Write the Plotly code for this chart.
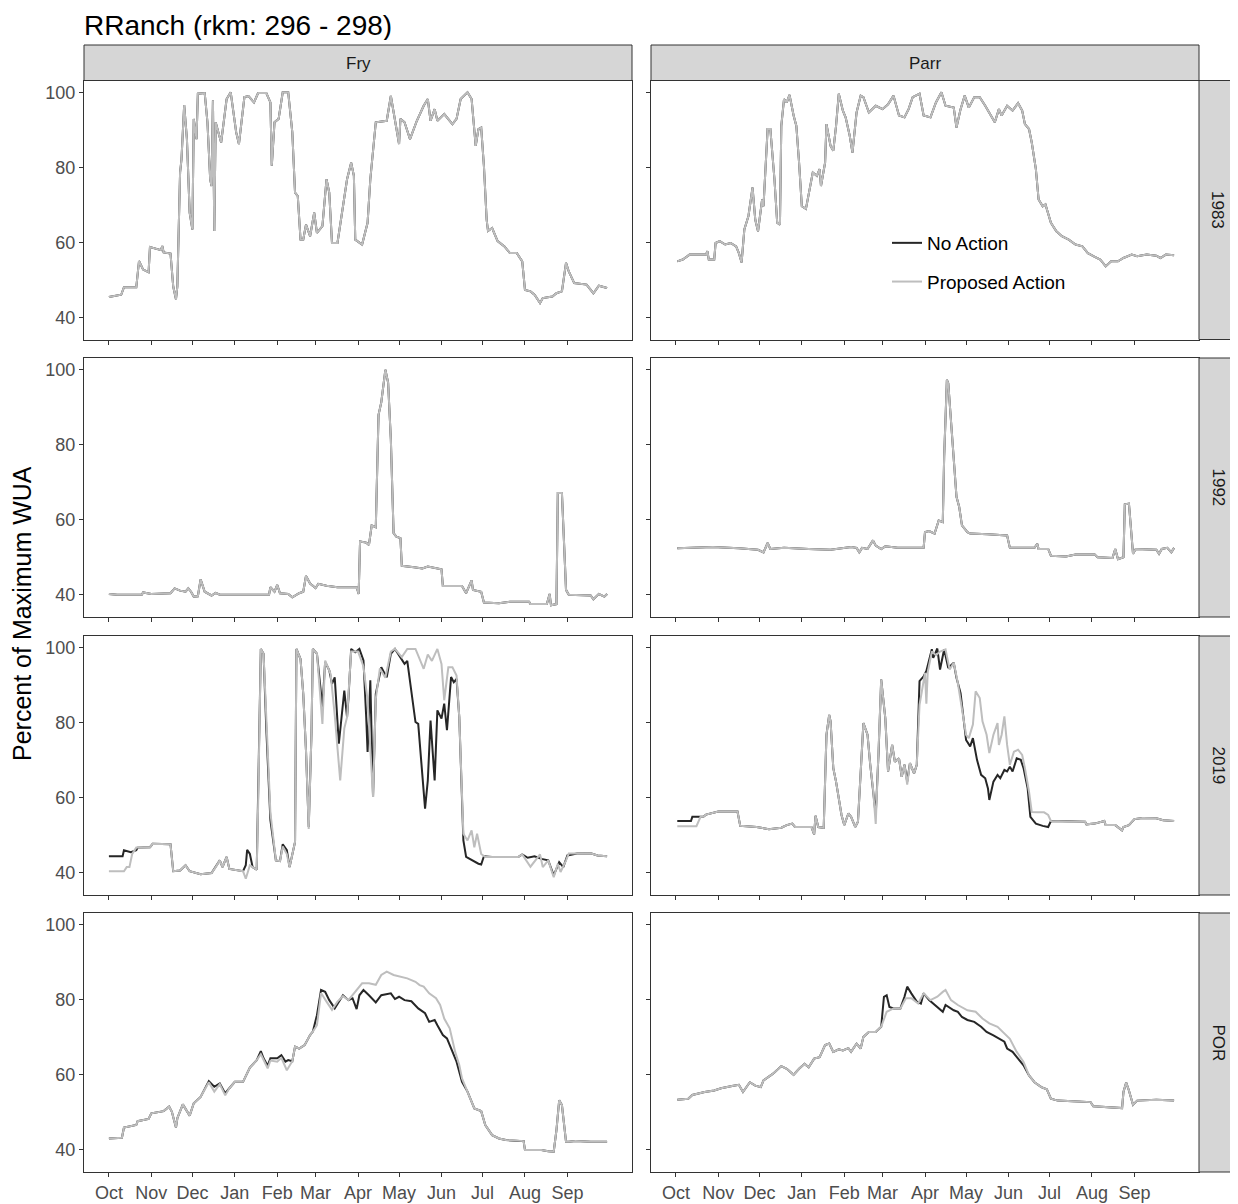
import plotly.graph_objects as go

# ---------------- data (day of water year, % of maximum WUA) ----------------
MONTHS = ["Oct", "Nov", "Dec", "Jan", "Feb", "Mar", "Apr", "May", "Jun", "Jul", "Aug", "Sep"]
MONTH_START_DAY = [0, 31, 61, 92, 123, 151, 182, 212, 243, 273, 304, 335]
LIFE_STAGES = ["Fry", "Parr"]
YEARS = ["1983", "1992", "2019", "POR"]
Y_TICKS = [40, 60, 80, 100]

FRY_1983 = [(0,45.4),(9,46),(11,48),(20,48),(22,55),(25,52.7),(29,52),(30,58.7),(38,57.9),(39,59),(40,57.3),(45,57),(47,48.2),(49,44.8),(50,48.2),(52,78.6),(53,82),(55,96.6),(57,87.5),(59,67.9),(61,63.4),(62,92.9),(64,87.5),(65,99.6),(70,99.8),(72,92),(74,76.8),(75,75),(76,97.8),(77,63),(78,92),(82,86.6),(86,98.2),(89,100),(93,89.3),(95,86.2),(99,98.7),(102,99),(106,97.3),(109,99.8),(115,99.8),(118,97.3),(119,80.4),(121,92),(124,92.9),(127,100),(131,100),(134,89.3),(136,73.2),(138,72.3),(140,60.7),(142,60.7),(144,64.7),(147,61.6),(150,67.9),(152,62.5),(156,64.3),(159,76.8),(161,73.2),(163,59.8),(167,59.8),(172,72.3),(174,76.8),(177,81.2),(179,77.7),(180,60.7),(185,59.4),(189,65.2),(191,76.8),(195,92),(203,92.4),(206,99),(209,92),(212,86.2),(213,92.9),(216,92),(220,87.5),(225,92.4),(230,96.4),(233,98.2),(235,92.4),(238,95.5),(240,92.4),(245,94.2),(251,91.5),(254,92.9),(257,98.2),(262,100),(265,98.2),(268,85.7),(270,90.2),(272,90.6),(274,80.4),(276,66),(277,63),(280,63.8),(284,60.3),(289,58.9),(293,57.1),(298,57.1),(302,54.9),(304,47.3),(308,46.9),(311,46),(315,43.8),(317,45.1),(324,45.5),(327,46.4),(331,46.9),(334,54.5),(336,52.2),(340,49.1),(349,48.7),(354,46.4),(358,48.4),(364,47.8)]

PARR_1983 = [(1,54.9),(5,55.4),(10,56.7),(22,56.7),(23,57.6),(24,55.4),(28,55.4),(29,59.8),(32,60.3),(36,59.4),(40,59.8),(44,58.9),(46,57.1),(48,54.6),(50,63.4),(53,67),(56,74.6),(58,66),(60,62.9),(63,71.4),(64,69.6),(67,90.2),(69,90.2),(72,76.8),(74,65.2),(76,64.7),(77,91),(79,98.2),(81,97.3),(83,99.3),(86,93.8),(88,91),(90,81.2),(92,69.6),(95,68.9),(97,73.2),(100,78.6),(103,77.7),(105,79.5),(106,75),(109,81.2),(110,91.5),(113,85.7),(115,84.4),(117,91),(119,99.6),(122,95.1),(124,93.3),(127,88.4),(129,83.9),(132,94.6),(135,99.1),(137,98.7),(141,94.6),(146,96.4),(151,95.5),(155,96.8),(159,99.1),(163,93.8),(167,93.3),(170,95.5),(173,98.7),(178,99.6),(181,93.8),(186,93.3),(190,97.3),(194,100),(197,96.4),(203,95.9),(205,90.6),(208,95.5),(211,99.1),(214,95.9),(218,98.7),(222,98.7),(226,96.4),(229,94.6),(233,92),(236,95.5),(238,93.8),(242,96.4),(246,95.1),(250,97.1),(253,95.1),(255,91.5),(258,90.2),(260,86.6),(263,79.5),(265,71.4),(268,69.6),(270,70.1),(274,65.2),(278,62.9),(282,61.6),(287,60.7),(292,59.4),(297,58.9),(301,57.1),(305,56.3),(310,55.4),(314,53.6),(318,54.9),(323,54.9),(327,55.8),(333,56.7),(337,56.3),(344,56.7),(351,56.4),(354,55.8),(358,56.7),(364,56.5)]

FRY_1992 = [(0,40.2),(6,40),(24,40),(25,40.6),(31,40.2),(45,40.4),(48,41.7),(52,41.1),(56,40.8),(58,41.7),(60,40.8),(62,39.5),(65,39.6),(67,44.1),(70,40.8),(75,39.8),(78,40.5),(81,40),(98,40),(117,40),(118,42),(121,40.8),(123,42.6),(125,40.4),(131,40.2),(134,39.3),(139,40.4),(142,40.8),(144,45),(147,43),(151,41.8),(153,42.9),(159,42.4),(167,42),(181,42),(182.5,40.2),(183.5,54.2),(188,53.9),(190,53.3),(192,58.5),(195,58),(197,88),(199,91.3),(202,100),(204,96.6),(206,81.4),(208,56.4),(210,55.5),(213,55.1),(214,47.7),(223,47.3),(229,47),(233,47.5),(243,46.8),(244,42.3),(258,42.3),(261,40.4),(265,43.8),(266,41.3),(272,40.8),(274,37.9),(285,37.7),(293,38.1),(307,38.1),(308,37.5),(320,37.5),(322,40.2),(323,37.2),(327,37.5),(328,67.1),(331,67.1),(334,41.3),(336,40),(352,39.8),(354,38.8),(358,40.2),(362,39.5),(364,40.2)]

PARR_1992 = [(1,52.4),(27,52.7),(46,52.4),(60,52),(64,51.3),(65,52.2),(67,53.8),(69,52.2),(79,52.5),(97,52.2),(113,52),(128,52.7),(132,52.5),(134,51.3),(136,52.5),(140,52.2),(144,54.5),(146,53.1),(150,52.2),(153,52.9),(162,52.5),(181,52.5),(182,56.7),(185,57),(189,56.3),(192,59.8),(195,59.4),(196,76.8),(198,97.3),(199,96.4),(202,81.2),(205,66.1),(207,63.4),(209,58.5),(213,56.7),(215,56.3),(228,56.1),(242,55.8),(244,52.5),(262,52.5),(264,53.6),(265,52.2),(272,52.2),(274,50.4),(285,50.2),(292,50.7),(306,50.7),(308,50),(319,49.8),(321,52.2),(323,49.5),(327,50),(328,64.1),(331,64.3),(334,50.9),(336,52.2),(351,52),(353,50.9),(355,52.2),(359,52.5),(362,51.3),(364,52.5)]

FRY_2019_NA = [(0,44.4),(10,44.4),(11,46),(16,45.5),(20,46),(21,46.7),(30,46.8),(32,47.7),(45,47.6),(47,40.4),(52,40.6),(56,42),(59,40.4),(67,39.6),(75,39.9),(78,41.5),(81,43.3),(83,41.5),(86,44.2),(88,41),(98,40.4),(100,42),(101,46.1),(103,45),(105,41.5),(108,40.8),(109,57.5),(111,99.7),(113,98.4),(115,78.4),(118,54),(122,43.3),(125,43.1),(127,47.6),(130,46),(132,41.5),(136,48.2),(137,99.7),(140,97),(142,87.7),(144,72.6),(146,52.2),(148,77.1),(149,99.7),(152,98.4),(156,84.2),(158,96.2),(161,94),(163,90.4),(165,92.1),(168,74.4),(172,88.6),(174,81.5),(175,86.4),(177,99.7),(180,98.8),(183,99.7),(186,96.6),(188,81.5),(189,72.2),(191,91.3),(193,60.2),(195,87.7),(199,94.8),(203,92.1),(206,98.4),(209,99.7),(213,97.5),(216,95.7),(218,96.5),(224,80.2),(226,79.7),(229,64.6),(231,57.1),(233,64.6),(235,80.6),(238,64.6),(240,83.3),(243,81.1),(245,85.1),(247,78),(250,92.2),(252,90.8),(254,91.7),(256,81.5),(259,48.6),(261,44.2),(265,43.3),(270,42.4),(272,42.2),(274,44.4),(280,44.2),(290,44.2),(299,44.2),(302,44.9),(306,44),(311,44.4),(316,43.7),(321,43.3),(325,39.3),(329,42.8),(332,41.5),(335,44.6),(342,45.1),(352,45.2),(357,44.6),(364,44.4)]

FRY_2019_PA = [(0,40.4),(11,40.4),(13,41.5),(15,41.5),(17,45),(20,46.7),(21,46.7),(30,46.8),(32,47.7),(45,47.6),(47,40.4),(52,40.6),(56,42),(59,40.4),(67,39.6),(75,39.9),(78,41.5),(81,43.3),(83,41.5),(86,44.2),(88,41),(98,40.4),(100,38.4),(103,42),(105,41.5),(108,40.8),(109,57.5),(111,99.7),(113,98.4),(115,80),(118,56),(122,43.3),(125,43.1),(127,47),(130,45),(132,41.5),(136,48.2),(137,99.7),(140,97),(142,87.7),(144,72.6),(146,51.7),(148,77.1),(149,99.7),(152,98.4),(156,79.7),(158,96.6),(162,93),(165,82),(169,64.6),(172,78.5),(174,81.5),(177,99),(182,99),(186,95),(189,86),(193,60.2),(195,86.4),(198,94.5),(202,92),(206,99),(209,99.7),(214,97.5),(218,99.7),(224,99.7),(230,94.4),(233,98.2),(236,96.5),(240,99.7),(243,95.7),(245,86),(248,94.8),(251,94.8),(254,92.6),(256,81.5),(259,50.4),(262,48.6),(265,51.3),(267,46.8),(269,50.4),(272,45),(275,44.2),(290,44.2),(299,44.2),(302,44.9),(308,41.6),(315,44.9),(317,41.5),(321,43.3),(325,38.8),(328,42.4),(330,40.2),(334,43.3),(336,45.1),(342,45.1),(352,45.2),(357,44.6),(364,44.4)]

PARR_2019_NA = [(1,53.8),(11,53.8),(12,54.9),(20,54.9),(22,55.5),(31,56.3),(45,56.3),(47,52.5),(59,52.2),(68,51.6),(77,52),(81,52.7),(85,53.1),(87,52.2),(99,52.2),(101,50.2),(102,55.2),(104,52.2),(108,52),(110,76.8),(112,82.1),(113,80.4),(115,67.9),(117,64.3),(121,55.4),(123,52.7),(126,55.8),(128,54.9),(131,52.2),(133,53.6),(137,79.9),(140,76.8),(142,68.8),(144,62.5),(146,55.4),(148,71.4),(150,91.5),(153,81.2),(155,67),(158,74.1),(160,69.6),(163,70.5),(165,65.6),(167,68.8),(169,64.3),(171,69.2),(174,66.5),(176,68.8),(178,91.1),(181,92.4),(183,93.8),(187,99.6),(188,97.3),(191,99.8),(193,94.2),(196,99.6),(199,94.6),(203,96),(205,92),(208,87.9),(210,82.1),(212,75.4),(215,73.7),(217,75.9),(220,70.1),(223,66.1),(226,65.2),(228,62.5),(229,59.4),(232,64.3),(235,66.1),(237,65.2),(240,67.4),(242,67),(244,68.3),(246,67),(249,70.5),(252,70.1),(254,67.9),(257,62.5),(259,54.9),(263,53.1),(268,52.5),(272,52.2),(274,53.8),(290,53.6),(299,53.6),(300,52.9),(306,53.1),(313,53.8),(314,52.7),(321,52.7),(326,51.3),(327,52.2),(331,52.7),(335,54.3),(341,54.6),(351,54.5),(356,54),(364,53.8)]

PARR_2019_PA = [(1,52.4),(15,52.4),(18,54.9),(20,54.9),(22,55.5),(31,56.3),(45,56.3),(47,52.5),(59,52.2),(68,51.6),(77,52),(81,52.7),(85,53.1),(87,52.2),(99,52.2),(101,50.2),(102,55.2),(104,52.2),(108,52),(110,76.8),(112,82.1),(113,80.4),(115,67.9),(117,64.3),(121,55.4),(123,52.7),(126,55.8),(128,54.9),(131,52.2),(133,53.6),(137,79.9),(140,76.8),(142,68.8),(144,62.5),(146,53),(148,71.4),(150,91.5),(153,81.2),(155,67),(158,74.1),(160,69.6),(163,70.5),(165,65.6),(167,68.8),(169,63.5),(171,69.2),(174,66.5),(176,68.8),(178,84.8),(180,89),(182,93.3),(183,85.1),(184,93.5),(187,99),(190,98),(193,99),(197,99.6),(200,94.2),(203,96),(206,90.6),(208,86),(212,76.8),(214,75.9),(217,79.5),(219,88.4),(222,86.6),(224,80.4),(227,76.8),(229,71.9),(232,76.8),(235,79.9),(236,74.1),(238,76.8),(240,81.7),(242,74.1),(244,68.8),(247,72.3),(250,72.8),(253,71.4),(255,67.9),(258,61.6),(260,56.2),(264,56.1),(269,56.1),(272,55.4),(274,53.8),(290,53.6),(299,53.6),(300,52.9),(306,53.1),(313,53.8),(314,52.7),(321,52.7),(326,51.3),(327,52.2),(331,52.7),(335,54.3),(341,54.6),(351,54.5),(356,54),(364,53.8)]

FRY_POR_NA = [(0,43),(9.5,43.2),(11,45.9),(20,46.6),(21,47.6),(29,48.2),(31,49.7),(36,50.1),(40,50.3),(44,51.5),(46,50.1),(49,45.9),(50,48.4),(54,52.1),(57,50.1),(59,49.1),(62,52.4),(67,54.1),(73,58.3),(77,56.8),(81,57.7),(85,55),(88,56.4),(92,58.1),(98,58.1),(103,61.9),(108,63.9),(111,66.3),(113,64.4),(116,62.4),(118,64.4),(123,64.4),(126,65.2),(129,63.5),(131,63.9),(134,63.6),(136,67.5),(139,67),(143,67.9),(147,70.6),(149,71.5),(152,75.9),(155,82.6),(158,82.1),(161,79.9),(165,77.7),(171,81.2),(175,79.9),(178,80.4),(181,77.5),(183,81.2),(186,82.6),(190,81.2),(195,79.3),(199,81.2),(206,81.7),(209,80.2),(212,80.8),(216,79.9),(221,79.6),(226,77.7),(229,76.8),(231,76.4),(234,74.1),(238,74.6),(240,73.2),(244,70.6),(247,69.7),(251,66.1),(254,63.5),(258,58.1),(262,55.5),(267,51),(272,50.3),(275,46.6),(280,43.9),(285,43),(290,42.6),(300,42.3),(303,42.3),(304,39.9),(316,39.9),(321,39.6),(325,39.5),(327,45.2),(329,53.2),(331,51.9),(334,42.1),(336,42.1),(341,42.3),(352,42.1),(364,42.1)]

FRY_POR_PA = [(0,43),(9.5,43.2),(11,45.9),(20,46.6),(21,47.6),(29,48.2),(31,49.7),(36,50.1),(40,50.3),(44,51.5),(46,50.1),(49,45.9),(50,48.4),(54,52.1),(57,50.1),(59,49.1),(62,52.4),(67,54.1),(73,58),(77,55.5),(81,57.5),(85,54.5),(88,56.4),(92,58.1),(98,58.1),(103,61.9),(108,63.9),(111,65.5),(113,64),(116,61.7),(118,63.8),(123,63.5),(126,64.5),(130,61.2),(134,63.6),(136,67.5),(139,67),(143,67.9),(147,70.6),(149,71.5),(152,73.2),(155,81.8),(159,79.5),(163,77.3),(167,79.5),(171,81),(175,79.9),(180,82.1),(185,84.4),(190,84.4),(195,84),(199,86.6),(203,87.5),(208,86.6),(213,86.2),(218,85.7),(224,84.8),(227,83.9),(230,83.5),(234,81.7),(239,80.4),(242,78.6),(245,75),(249,72.4),(253,66.1),(256,62.6),(258,59),(262,55.5),(267,51),(272,50.3),(275,46.6),(280,43.9),(285,43),(290,42.6),(300,42.3),(303,42.3),(304,39.9),(316,39.9),(321,39.6),(325,39.5),(327,45.2),(329,53.2),(331,51.9),(334,42.1),(336,42.1),(341,42.3),(352,42.1),(364,42.1)]

PARR_POR_NA = [(1,53.3),(9,53.6),(12,54.6),(21,55.4),(28,55.8),(33,56.4),(41,57),(46,57.3),(49,55.4),(54,58),(58,57.1),(62,56.7),(64,58.5),(71,60.3),(77,62.3),(81,61.6),(86,60),(90,61.6),(94,62.9),(97,62),(101,64.3),(105,64.7),(109,67.9),(112,68.3),(115,66.1),(119,66.8),(122,66.5),(126,67.1),(128,66.1),(132,68.3),(135,67),(137,70.1),(141,71.4),(146,71.4),(150,72.8),(152,80.8),(154,81.2),(156,78.1),(159,77.7),(164,77.7),(167,80.8),(169,83.5),(172,81.7),(176,79.5),(179,79),(181,81.7),(185,79.9),(188,79),(191,78.1),(195,76.8),(197,78.6),(203,77.2),(206,76.8),(209,75.4),(213,74.6),(218,74.1),(223,72.8),(227,71.4),(232,70.5),(236,69.6),(240,68.8),(242,67),(246,66.1),(250,64.3),(254,62.5),(258,59.8),(262,58),(267,56.7),(271,56.1),(274,53.6),(279,53.1),(290,52.9),(303,52.7),(305,51.6),(315,51.3),(326,51.1),(327,55.4),(329,57.9),(331,55.8),(334,52),(337,53.1),(351,53.3),(364,53.1)]

PARR_POR_PA = [(1,53.3),(9,53.6),(12,54.6),(21,55.4),(28,55.8),(33,56.4),(41,57),(46,57.3),(49,55.4),(54,58),(58,57.1),(62,56.7),(64,58.5),(71,60.3),(77,62.3),(81,61.6),(86,60),(90,61.6),(94,62.9),(97,62),(101,64.3),(105,64.7),(109,67.9),(112,68.3),(115,66.1),(119,66.8),(122,66.5),(126,67.1),(128,66.1),(132,68.3),(135,67),(137,70.1),(141,71.4),(146,71.4),(150,72.8),(154,76.8),(159,77.7),(164,77.7),(168,80.4),(172,80.4),(177,79),(181,81.7),(186,79.9),(191,80.8),(195,82.1),(197,82.6),(201,79.9),(206,78.6),(213,77.2),(219,76.8),(224,75),(229,73.7),(235,72.8),(240,71),(244,69.6),(249,66.1),(254,63.4),(258,59.8),(262,58),(267,56.7),(271,56.1),(274,53.6),(279,53.1),(290,52.9),(303,52.7),(305,51.6),(315,51.3),(326,51.1),(327,55.4),(329,57.9),(331,55.8),(334,52),(337,53.1),(351,53.3),(364,53.1)]

# (No Action, Proposed Action) per facet
SERIES = {
    ("Fry", "1983"): (FRY_1983, FRY_1983),
    ("Parr", "1983"): (PARR_1983, PARR_1983),
    ("Fry", "1992"): (FRY_1992, FRY_1992),
    ("Parr", "1992"): (PARR_1992, PARR_1992),
    ("Fry", "2019"): (FRY_2019_NA, FRY_2019_PA),
    ("Parr", "2019"): (PARR_2019_NA, PARR_2019_PA),
    ("Fry", "POR"): (FRY_POR_NA, FRY_POR_PA),
    ("Parr", "POR"): (PARR_POR_NA, PARR_POR_PA),
}

# ---------------- layout ----------------
W, H = 1238, 1204
PAGE_OFFSET = 8  # default body margin of the html page
FONT = "Liberation Sans, Arial, Helvetica, sans-serif"
NA_COLOR = "#262626"
PA_COLOR = "#BEBEBE"
BORDER = "#333333"
STRIP_FILL = "#D6D6D6"

# pixel positions on the page
COL_PX = [(84, 632), (651, 1199)]
ROW_PX = [(80.5, 339.5), (358, 617), (636, 895), (913, 1172)]
X_RANGE = [-18.2, 382.2]
Y_RANGE = [34.06, 103.14]


def fx(px):
    return (px - PAGE_OFFSET) / W


def fy(py):
    return 1 - (py - PAGE_OFFSET) / H


fig = go.Figure()
layout = {}
shapes = []
annotations = []
TICK_FONT = dict(family=FONT, size=18, color="#4D4D4D")

for r, year in enumerate(YEARS):
    for c, stage in enumerate(LIFE_STAGES):
        idx = r * 2 + c + 1
        sfx = "" if idx == 1 else str(idx)
        xa, ya = "x" + sfx, "y" + sfx
        na, pa = SERIES[(stage, year)]
        fig.add_trace(go.Scatter(
            x=[p[0] for p in na], y=[p[1] for p in na], mode="lines",
            line=dict(color=NA_COLOR, width=2), name="No Action",
            legendgroup="na", showlegend=(idx == 1), xaxis=xa, yaxis=ya,
            hoverinfo="skip"))
        fig.add_trace(go.Scatter(
            x=[p[0] for p in pa], y=[p[1] for p in pa], mode="lines",
            line=dict(color=PA_COLOR, width=2), name="Proposed Action",
            legendgroup="pa", showlegend=(idx == 1), xaxis=xa, yaxis=ya,
            hoverinfo="skip"))
        x0, x1 = COL_PX[c]
        y0, y1 = ROW_PX[r]
        layout["xaxis" + sfx] = dict(
            domain=[fx(x0), fx(x1)], anchor=ya, range=X_RANGE,
            tickmode="array", tickvals=MONTH_START_DAY, ticktext=MONTHS,
            showticklabels=(r == len(YEARS) - 1), ticks="outside", ticklen=4,
            tickwidth=1, tickcolor=BORDER, showline=True, mirror=True,
            linecolor=BORDER, linewidth=1, showgrid=False, zeroline=False,
            tickfont=TICK_FONT, fixedrange=True)
        layout["yaxis" + sfx] = dict(
            domain=[fy(y1), fy(y0)], anchor=xa, range=Y_RANGE,
            tickmode="array", tickvals=Y_TICKS,
            showticklabels=(c == 0), ticks="outside", ticklen=4,
            tickwidth=1, tickcolor=BORDER, showline=True, mirror=True,
            linecolor=BORDER, linewidth=1, showgrid=False, zeroline=False,
            tickfont=TICK_FONT, fixedrange=True)

# column strips (top)
for c, stage in enumerate(LIFE_STAGES):
    x0, x1 = COL_PX[c]
    shapes.append(dict(type="rect", xref="paper", yref="paper",
                       x0=fx(x0), x1=fx(x1), y0=fy(80.5), y1=fy(45),
                       fillcolor=STRIP_FILL, line=dict(color=BORDER, width=1)))
    annotations.append(dict(text=stage, xref="paper", yref="paper",
                            x=fx((x0 + x1) / 2), y=fy(63), showarrow=False,
                            xanchor="center", yanchor="middle",
                            font=dict(family=FONT, size=17, color="#1A1A1A")))
# row strips (right)
for r, year in enumerate(YEARS):
    y0, y1 = ROW_PX[r]
    shapes.append(dict(type="rect", xref="paper", yref="paper",
                       x0=fx(1199), x1=fx(1236), y0=fy(y1), y1=fy(y0),
                       fillcolor=STRIP_FILL, line=dict(color=BORDER, width=1)))
    annotations.append(dict(text=year, xref="paper", yref="paper",
                            x=fx(1218), y=fy((y0 + y1) / 2), showarrow=False,
                            textangle=90, xanchor="center", yanchor="middle",
                            font=dict(family=FONT, size=17, color="#1A1A1A")))

# title and y-axis title
annotations.append(dict(text="RRanch (rkm: 296 - 298)", xref="paper", yref="paper",
                        x=fx(82), y=1, showarrow=False, xanchor="left",
                        yanchor="top", height=30, valign="middle",
                        font=dict(family=FONT, size=28, color="#000000")))
annotations.append(dict(text="Percent of Maximum WUA", xref="paper", yref="paper",
                        x=fx(22), y=fy(614), showarrow=False, textangle=-90,
                        xanchor="center", yanchor="middle",
                        font=dict(family=FONT, size=25, color="#000000")))

fig.update_layout(
    width=W, height=H, margin=dict(l=0, r=0, t=0, b=0),
    paper_bgcolor="white", plot_bgcolor="white",
    shapes=shapes, annotations=annotations,
    legend=dict(x=fx(887), y=fy(224), xanchor="left", yanchor="top",
                bgcolor="rgba(0,0,0,0)", traceorder="grouped", tracegroupgap=11,
                font=dict(family=FONT, size=19, color="#000000")),
    **layout)

fig.write_html("out.html")
